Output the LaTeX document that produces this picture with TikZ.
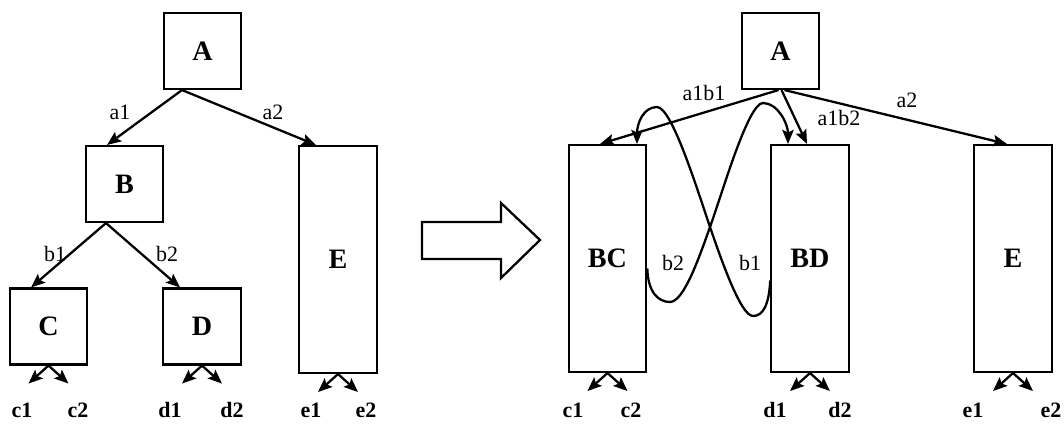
\documentclass[tikz,border=0pt]{standalone}
\usepackage{fontspec}
\setmainfont{Liberation Serif}
\usetikzlibrary{arrows.meta, calc}
\tikzset{
	>={Stealth[length=8pt, width=6.5pt, inset=1.5pt]},
	% blocco quadrato
	blocco/.style={draw, line width=1.2pt, rectangle, minimum width=1.55cm, minimum height=1.52cm,
	               inner sep=0pt, font=\bfseries\fontsize{16}{16}\selectfont},
	% blocco alto
	bloccoalto/.style={blocco, minimum height=4.54cm},
	% arco
	arco/.style={->, line width=1.3pt},
	% etichetta di arco
	etichetta/.style={font=\fontsize{12.5}{13}\selectfont, inner sep=1pt},
	% uscita
	uscita/.style={font=\bfseries\fontsize{12.5}{13}\selectfont, inner sep=1pt},
}

\begin{document}
\begin{tikzpicture}[x=0.02cm, y=-0.02cm]
    \useasboundingbox (0,0) rectangle (1064,423);

    % albero originale
    \node[blocco] (lA) at (202.5,51) {A};
    \node[blocco] (lB) at (124.5,184) {B};
    \node[blocco] (lC) at (48.5,326.5) {C};
    \node[blocco] (lD) at (202,326.5) {D};
    \node[bloccoalto] (lE) at (338,259.5) {E};

    \draw[arco] ($(lA.south)+(-20.5,0)$) -- ($(lB.north)+(-17.5,0)$);
    \node[etichetta] (la1) at (120,112) {a1};
    \draw[arco] ($(lA.south)+(-20.5,0)$) -- ($(lE.north)+(-22,0)$);
    \node[etichetta] (la2) at (273,112) {a2};
    \draw[arco] ($(lB.south)+(-18.5,0)$) -- ($(lC.north)+(-17.5,0)$);
    \node[etichetta] (lb1) at (55,254) {b1};
    \draw[arco] ($(lB.south)+(-18.5,0)$) -- ($(lD.north)+(-22,0)$);
    \node[etichetta] (lb2) at (167,254) {b2};

    % freccia di trasformazione
    \draw[line width=1.3pt, line join=miter] (422,222) -- (501,222) -- (501,203) -- (540,240)
        -- (501,278) -- (501,259) -- (422,259) -- cycle;

    % albero fuso
    \node[blocco] (rA) at (780.5,51) {A};
    \node[bloccoalto] (rBC) at (607.5,258.5) {BC};
    \node[bloccoalto] (rBD) at (810,258.5) {BD};
    \node[bloccoalto] (rE) at (1013,258.5) {E};

    \draw[arco] ($(rA.south)+(-2,0)$) -- ($(rBC.north)+(-7.5,0)$);
    \node[etichetta] (ra1b1) at (704,93) {a1b1};
    \draw[arco] ($(rA.south)+(1,0)$) -- ($(rBD.north)+(-3,0)$);
    \node[etichetta] (ra1b2) at (839,118) {a1b2};
    \draw[arco] ($(rA.south)+(4,0)$) -- ($(rE.north)+(-6,0)$);
    \node[etichetta] (ra2) at (907,100) {a2};

    % archi incrociati
    \draw[arco] ($(rBC.east)+(0,10)$) .. controls (648,292) and (658,302) .. (670,302)
        .. controls (684,302) and (700,255) .. (710,227)
        .. controls (722,194) and (748,103) .. (763,103)
        .. controls (778,103) and (788,124) .. ($(rBD.north)+(-22,0)$);
    \node[etichetta] (rb2) at (673,263) {b2};
    \draw[arco] ($(rBD.west)+(0,22)$) .. controls (769,305) and (763,316) .. (753,316)
        .. controls (741,316) and (722,262) .. (710,227)
        .. controls (698,192) and (672,107) .. (657,107)
        .. controls (643,107) and (637,124) .. ($(rBC.north)+(29.5,0)$);
    \node[etichetta] (rb1) at (750,263) {b1};

    % uscite
    \foreach \n in {lC,lD,lE,rBC,rBD,rE}{
        \draw[arco] (\n.south) -- ++(-20,18) coordinate (\n-sx);
        \draw[arco] (\n.south) -- ++(20,18) coordinate (\n-dx);
    }
    \node[uscita] (lc1) at (22,410) {c1};
    \node[uscita] (lc2) at (78,410) {c2};
    \node[uscita] (ld1) at (170,410) {d1};
    \node[uscita] (ld2) at (232,410) {d2};
    \node[uscita] (le1) at (311,410) {e1};
    \node[uscita] (le2) at (366,410) {e2};
    \node[uscita] (rc1) at (573,410) {c1};
    \node[uscita] (rc2) at (631,410) {c2};
    \node[uscita] (rd1) at (775,410) {d1};
    \node[uscita] (rd2) at (840,410) {d2};
    \node[uscita] (re1) at (973,410) {e1};
    \node[uscita] (re2) at (1051,410) {e2};
\end{tikzpicture}
\end{document}
